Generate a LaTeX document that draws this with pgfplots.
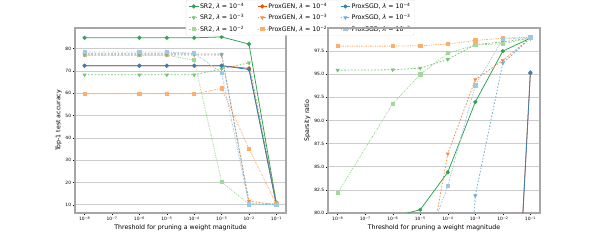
\documentclass[border=0pt]{standalone}
\usepackage{fontspec}
\setmainfont{DejaVu Sans}
\usepackage{pgfplots}
\pgfplotsset{compat=1.18}

\definecolor{gA}{HTML}{31A354}
\definecolor{gB}{HTML}{74C476}
\definecolor{gC}{HTML}{A1D99B}
\definecolor{oA}{HTML}{E6550D}
\definecolor{oB}{HTML}{FD8D3C}
\definecolor{oC}{HTML}{FDAE6B}
\definecolor{bA}{HTML}{3182BD}
\definecolor{bB}{HTML}{6BAED6}
\definecolor{bC}{HTML}{9ECAE1}

\pgfplotsset{
  panel/.style={
    scale only axis,
    xmin=4.47e-9, xmax=0.224,
    xtick={1e-8,1e-7,1e-6,1e-5,1e-4,1e-3,1e-2,1e-1},
    xticklabels={10\textsuperscript{−8},10\textsuperscript{−7},10\textsuperscript{−6},10\textsuperscript{−5},10\textsuperscript{−4},10\textsuperscript{−3},10\textsuperscript{−2},10\textsuperscript{−1}},
    xtick pos=bottom, ytick pos=left, tick align=outside,
    major tick length=3.5pt, minor tick length=2pt,
    tick style={black, line width=0.6pt},
    ymajorgrids, grid style={gray!40, line width=0.9pt},
    axis line style={gray!70, line width=2.2pt},
    ticklabel style={font=\fontsize{8}{9}\selectfont},
    yticklabel style={/pgf/number format/assume math mode=true},
    label style={font=\fontsize{11.3}{13}\selectfont},
    xlabel={Threshold for pruning a weight magnitude},
    every axis plot/.append style={line width=1.4pt, mark size=3pt},
  },
  sA/.style={solid, mark=*, mark options={solid}},
  sB/.style={dashed, mark=triangle*, mark options={solid, rotate=180}},
  sC/.style={dash dot, mark=square*, mark options={solid}},
}

\begin{document}
\begin{tikzpicture}
\path[use as bounding box] (0,0) rectangle (15in,6in);

\begin{semilogxaxis}[panel,
  at={(1.875in,0.675in)}, anchor=south west,
  width=5.275in, height=4.625in,
  ymin=6.3, ymax=89.2, ytick={10,20,30,40,50,60,70,80},
  ylabel={Top-1 test accuracy},
  legend columns=3, transpose legend,
  legend style={at={(1.0664,1.152)}, anchor=north,
    font=\fontsize{11.3}{13}\selectfont, draw=gray!40, rounded corners=2pt,
    cells={anchor=west}, /tikz/every even column/.append style={column sep=22pt},
    inner xsep=5pt, inner ysep=4pt, row sep=5pt},
  legend image post style={line width=1.4pt},
]
\addplot[gA, sA] coordinates {(1e-8,84.8)(1e-6,84.8)(1e-5,84.8)(1e-4,84.8)(1e-3,85.2)(1e-2,82.0)(1e-1,10.6)};
\addlegendentry{SR2, \textit{λ} = 10\textsuperscript{−4}}
\addplot[gB, sB] coordinates {(1e-8,68.2)(1e-6,68.2)(1e-5,68.2)(1e-4,68.2)(1e-3,70.9)(1e-2,73.6)(1e-1,11.2)};
\addlegendentry{SR2, \textit{λ} = 10\textsuperscript{−3}}
\addplot[gC, sC] coordinates {(1e-8,77.0)(1e-6,77.0)(1e-5,77.0)(1e-4,74.8)(1e-3,20.2)(1e-2,10.3)(1e-1,10.5)};
\addlegendentry{SR2, \textit{λ} = 10\textsuperscript{−2}}
\addplot[oA, sA] coordinates {(1e-8,72.3)(1e-6,72.3)(1e-5,72.3)(1e-4,72.3)(1e-3,72.3)(1e-2,71.1)(1e-1,10.0)};
\addlegendentry{ProxGEN, \textit{λ} = 10\textsuperscript{−4}}
\addplot[oB, sB] coordinates {(1e-8,77.1)(1e-6,77.1)(1e-5,77.1)(1e-4,77.1)(1e-3,77.1)(1e-2,11.6)(1e-1,10.0)};
\addlegendentry{ProxGEN, \textit{λ} = 10\textsuperscript{−3}}
\addplot[oC, sC] coordinates {(1e-8,59.7)(1e-6,59.7)(1e-5,59.7)(1e-4,59.7)(1e-3,62.1)(1e-2,35.1)(1e-1,10.2)};
\addlegendentry{ProxGEN, \textit{λ} = 10\textsuperscript{−2}}
\addplot[bA, sA] coordinates {(1e-8,72.3)(1e-6,72.3)(1e-5,72.3)(1e-4,72.3)(1e-3,72.3)(1e-2,70.6)(1e-1,10.0)};
\addlegendentry{ProxSGD, \textit{λ} = 10\textsuperscript{−4}}
\addplot[bB, sB] coordinates {(1e-8,77.6)(1e-6,77.6)(1e-5,77.6)(1e-4,77.6)(1e-3,77.5)(1e-2,10.4)(1e-1,10.0)};
\addlegendentry{ProxSGD, \textit{λ} = 10\textsuperscript{−3}}
\addplot[bC, sC] coordinates {(1e-8,78.4)(1e-6,78.4)(1e-5,78.4)(1e-4,77.9)(1e-3,69.1)(1e-2,10.2)(1e-1,10.0)};
\addlegendentry{ProxSGD, \textit{λ} = 10\textsuperscript{−2}}
\end{semilogxaxis}

\begin{semilogxaxis}[panel,
  at={(8.2in,0.675in)}, anchor=south west,
  width=5.3in, height=4.625in,
  ymin=80, ymax=100, ytick={80,82.5,85,87.5,90,92.5,95,97.5},
  yticklabel style={/pgf/number format/fixed, /pgf/number format/fixed zerofill, /pgf/number format/precision=1},
  ylabel={Sparsity ratio},
]
\addplot[gA, sA] coordinates {(1e-8,79.0)(1e-6,79.6)(1e-5,80.35)(1e-4,84.4)(1e-3,92.0)(1e-2,97.5)(1e-1,98.9)};
\addplot[gB, sB] coordinates {(1e-8,95.44)(1e-6,95.48)(1e-5,95.66)(1e-4,96.6)(1e-3,98.2)(1e-2,98.5)(1e-1,98.9)};
\addplot[gC, sC] coordinates {(1e-8,82.16)(1e-6,91.8)(1e-5,94.97)(1e-4,97.28)(1e-3,98.15)(1e-2,98.3)(1e-1,98.9)};
\addplot[oA, sA] coordinates {(1e-8,20)(1e-6,20)(1e-5,20)(1e-4,25)(1e-3,30)(1e-2,40)(1e-1,95.1)};
\addplot[oB, sB] coordinates {(1e-8,60)(1e-6,65)(1e-5,70)(1e-4,86.4)(1e-3,94.43)(1e-2,96.5)(1e-1,98.9)};
\addplot[oC, sC] coordinates {(1e-8,98.04)(1e-6,98.04)(1e-5,98.08)(1e-4,98.26)(1e-3,98.65)(1e-2,98.9)(1e-1,99.0)};
\addplot[bA, sA] coordinates {(1e-8,20)(1e-6,20)(1e-5,20)(1e-4,25)(1e-3,30)(1e-2,38.5)(1e-1,95.2)};
\addplot[bB, sB] coordinates {(1e-8,20)(1e-6,25)(1e-5,30)(1e-4,40)(1e-3,81.87)(1e-2,96.2)(1e-1,98.9)};
\addplot[bC, sC] coordinates {(1e-8,60)(1e-6,68)(1e-5,74.9)(1e-4,82.9)(1e-3,93.8)(1e-2,98.8)(1e-1,98.95)};
\end{semilogxaxis}
\end{tikzpicture}
\end{document}
